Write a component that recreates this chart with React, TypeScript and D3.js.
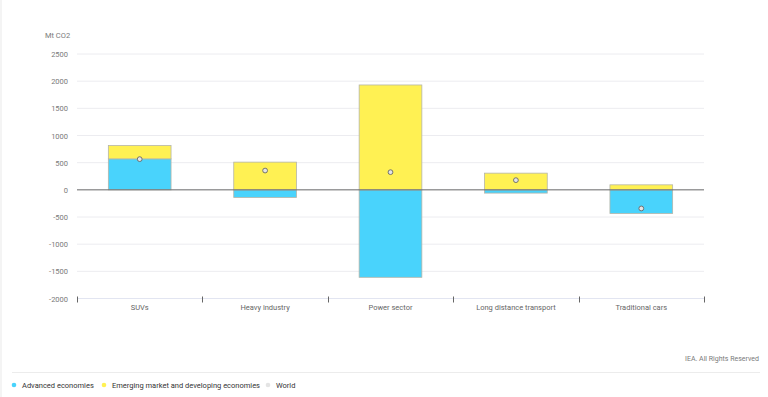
import React, { useRef, useEffect } from "react";
import * as d3 from "d3";

const categories = ["SUVs", "Heavy industry", "Power sector", "Long distance transport", "Traditional cars"];
const advanced = [570, -140, -1610, -60, -435];
const emerging = [245, 510, 1930, 307, 92];
const world = [565, 355, 325, 178, -343];
const yTicks = [-2000, -1500, -1000, -500, 0, 500, 1000, 1500, 2000, 2500];

const legendItems = [
  { label: "Advanced economies", color: "#49d3fc" },
  { label: "Emerging market and developing economies", color: "#fff153" },
  { label: "World", color: "#e4e4e4" },
];

const App = () => {
  const svgRef = useRef(null);

  useEffect(() => {
    const width = 768;
    const height = 397;
    const margin = { top: 54, right: 64, bottom: 99, left: 77 };
    const font = "Roboto, 'Open Sans', sans-serif";

    const svg = d3.select(svgRef.current);
    svg.selectAll("*").remove();
    svg.attr("width", width).attr("height", height);

    const x = d3
      .scaleBand()
      .domain(categories)
      .range([margin.left, width - margin.right])
      .paddingInner(0.5)
      .paddingOuter(0.25);

    const y = d3
      .scaleLinear()
      .domain([-2000, 2500])
      .range([height - margin.bottom + 0.5, margin.top]);

    /* gridlines */
    svg
      .append("g")
      .selectAll("line")
      .data(yTicks)
      .enter()
      .append("line")
      .attr("x1", margin.left)
      .attr("x2", width - margin.right)
      .attr("y1", (d) => y(d))
      .attr("y2", (d) => y(d))
      .style("stroke", "#ececf0")
      .style("stroke-width", 1);

    /* y tick labels */
    svg
      .append("g")
      .selectAll("text")
      .data(yTicks)
      .enter()
      .append("text")
      .attr("x", 68)
      .attr("y", (d) => y(d) + 3)
      .attr("text-anchor", "end")
      .style("font-family", font)
      .style("font-size", "7.5px")
      .style("fill", "#7a7a7a")
      .text((d) => d);

    svg
      .append("text")
      .attr("x", 45)
      .attr("y", 38)
      .style("font-family", font)
      .style("font-size", "7.5px")
      .style("fill", "#7a7a7a")
      .text("Mt CO2");

    /* bars */
    const bars = [];
    categories.forEach((c, i) => {
      const vals = [advanced[i], emerging[i]];
      let pos = 0;
      let neg = 0;
      vals.forEach((v, k) => {
        let y0, y1;
        if (v >= 0) {
          y0 = pos;
          y1 = pos + v;
          pos = y1;
        } else {
          y0 = neg;
          y1 = neg + v;
          neg = y1;
        }
        bars.push({ c, y0, y1, color: legendItems[k].color });
      });
    });

    svg
      .append("g")
      .selectAll("rect")
      .data(bars)
      .enter()
      .append("rect")
      .attr("x", (d) => x(d.c))
      .attr("width", x.bandwidth())
      .attr("y", (d) => y(Math.max(d.y0, d.y1)))
      .attr("height", (d) => Math.abs(y(d.y0) - y(d.y1)))
      .style("fill", (d) => d.color)
      .style("stroke", "#b5b5a8")
      .style("stroke-width", 0.8);

    /* zero line */
    svg
      .append("line")
      .attr("x1", margin.left)
      .attr("x2", width - margin.right)
      .attr("y1", y(0))
      .attr("y2", y(0))
      .style("stroke", "#6f6f6f")
      .style("stroke-width", 1);

    /* world dots */
    svg
      .append("g")
      .selectAll("circle")
      .data(world)
      .enter()
      .append("circle")
      .attr("cx", (d, i) => x(categories[i]) + x.bandwidth() / 2)
      .attr("cy", (d) => y(d))
      .attr("r", 2.4)
      .style("fill", "#e4e4e4")
      .style("stroke", "#666")
      .style("stroke-width", 0.9);

    /* bottom axis */
    const axisY = y(-2000);
    svg
      .append("line")
      .attr("x1", margin.left)
      .attr("x2", width - margin.right)
      .attr("y1", axisY)
      .attr("y2", axisY)
      .style("stroke", "#e2e5f1")
      .style("stroke-width", 1);

    const step = x.step();
    const boundaries = d3.range(categories.length + 1).map((i) => margin.left + i * step);
    svg
      .append("g")
      .selectAll("line")
      .data(boundaries)
      .enter()
      .append("line")
      .attr("x1", (d) => Math.round(d) + 0.5)
      .attr("x2", (d) => Math.round(d) + 0.5)
      .attr("y1", axisY - 2)
      .attr("y2", axisY + 4)
      .style("stroke", "#666")
      .style("stroke-width", 1);

    svg
      .append("g")
      .selectAll("text")
      .data(categories)
      .enter()
      .append("text")
      .attr("x", (d) => x(d) + x.bandwidth() / 2)
      .attr("y", axisY + 11)
      .attr("text-anchor", "middle")
      .style("font-family", font)
      .style("font-size", "7.5px")
      .style("fill", "#666")
      .text((d) => d);

    /* credit */
    svg
      .append("text")
      .attr("x", 759)
      .attr("y", 361)
      .attr("text-anchor", "end")
      .style("font-family", font)
      .style("font-size", "7px")
      .style("fill", "#7a7a7a")
      .text("IEA. All Rights Reserved");

    svg
      .append("line")
      .attr("x1", 12)
      .attr("x2", 760)
      .attr("y1", 372.5)
      .attr("y2", 372.5)
      .style("stroke", "#ececec")
      .style("stroke-width", 1);

    /* legend */
    const legendX = [14, 104, 268];
    const legend = svg
      .append("g")
      .selectAll("g")
      .data(legendItems)
      .enter()
      .append("g")
      .attr("transform", (d, i) => `translate(${legendX[i]}, 385)`);
    legend.append("circle").attr("r", 2.3).style("fill", (d) => d.color);
    legend
      .append("text")
      .attr("x", 8)
      .attr("y", 2.7)
      .style("font-family", font)
      .style("font-size", "7.5px")
      .style("fill", "#333")
      .text((d) => d.label);

    /* faint left edge */
    svg
      .append("rect")
      .attr("x", 0)
      .attr("y", 0)
      .attr("width", 2)
      .attr("height", height)
      .style("fill", "#f4f4f4");
  }, []);

  return (
    <div style={{ position: "absolute", left: 0, top: 0 }}>
      <svg ref={svgRef} style={{ display: "block" }} />
    </div>
  );
};

export default App;
